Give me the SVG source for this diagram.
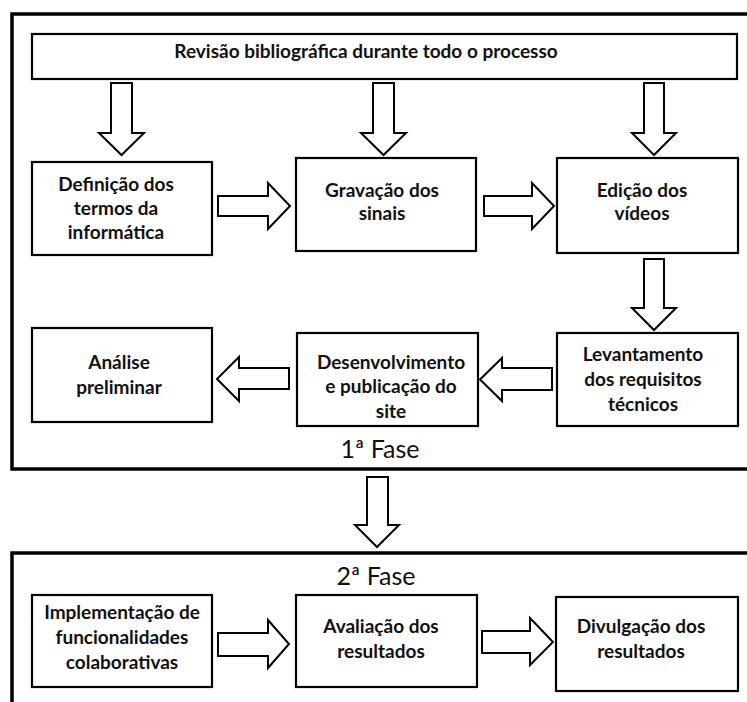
<svg xmlns="http://www.w3.org/2000/svg" width="747" height="702" viewBox="0 0 747 702">
<style>
.frame{fill:none;stroke:#000;stroke-width:3.5}
.box{fill:#fff;stroke:#000;stroke-width:2.2}
.arr{fill:#fff;stroke:#000;stroke-width:2;stroke-linejoin:miter}
.t{font-family:Lato,"Open Sans","Liberation Sans",sans-serif;font-weight:bold;font-size:19px;fill:#111;text-anchor:middle}
.top{font-size:19px}
.phase{font-family:Lato,"Open Sans","Liberation Sans",sans-serif;font-weight:normal;font-size:25px;fill:#111;text-anchor:middle}
</style>
<rect width="747" height="702" fill="#fff"/>
<g id="fase1">
<rect class="frame" x="12" y="14" width="760" height="455"/>
<text class="phase" x="380" y="458">1ª Fase</text>
</g>
<g id="fase2">
<rect class="frame" x="12" y="553" width="760" height="200"/>
<text class="phase" x="376" y="585">2ª Fase</text>
</g>
<g id="connectors">
<path class="arr" d="M111,83 H132 V133 H144 L121.5,155 L99,133 H111 Z"/>
<path class="arr" d="M373,83 H394 V133 H406 L383.5,155 L361,133 H373 Z"/>
<path class="arr" d="M644,83 H664 V133 H676 L654,155 L632,133 H644 Z"/>
<path class="arr" d="M218,196 H268 V183 L290,206 L268,229 V216 H218 Z"/>
<path class="arr" d="M484,196 H532 V183 L554,206 L532,229 V216 H484 Z"/>
<path class="arr" d="M644,259 H664 V308 H676 L654,330 L632,308 H644 Z"/>
<path class="arr" d="M552,368 H502 V358 L480,379.5 L502,401 V390 H552 Z"/>
<path class="arr" d="M289,368 H239 V357 L217,379 L239,401 V389 H289 Z"/>
<path class="arr" d="M367,477 H388 V525 H399 L377,547 L355,525 H367 Z"/>
<path class="arr" d="M218,633 H268 V620 L289,644 L268,668 V656 H218 Z"/>
<path class="arr" d="M482,631 H530 V618 L553,642 L530,665 V653 H482 Z"/>
</g>
<g id="revisao">
<rect class="box" x="32" y="34" width="705" height="45"/>
<text class="t top" x="366" y="58">Revisão bibliográfica durante todo o processo</text>
</g>
<g id="definicao">
<rect class="box" x="32" y="162" width="180" height="93"/>
<text class="t" x="116" y="191">Definição dos</text>
<text class="t" x="116" y="215">termos da</text>
<text class="t" x="116" y="239">informática</text>
</g>
<g id="gravacao">
<rect class="box" x="296" y="158" width="180" height="93"/>
<text class="t" x="382" y="197">Gravação dos</text>
<text class="t" x="382" y="220">sinais</text>
</g>
<g id="edicao">
<rect class="box" x="557" y="158" width="181" height="95"/>
<text class="t" x="642" y="197">Edição dos</text>
<text class="t" x="642" y="220">vídeos</text>
</g>
<g id="levantamento">
<rect class="box" x="557" y="333" width="181" height="93"/>
<text class="t" x="643" y="361">Levantamento</text>
<text class="t" x="643" y="386">dos requisitos</text>
<text class="t" x="643" y="411">técnicos</text>
</g>
<g id="desenvolvimento">
<rect class="box" x="297" y="333" width="181" height="93"/>
<text class="t" x="391" y="369">Desenvolvimento</text>
<text class="t" x="391" y="393">e publicação do</text>
<text class="t" x="391" y="418">site</text>
</g>
<g id="analise">
<rect class="box" x="32" y="328" width="180" height="94"/>
<text class="t" x="119" y="369">Análise</text>
<text class="t" x="119" y="394">preliminar</text>
</g>
<g id="implementacao">
<rect class="box" x="32" y="595" width="180" height="92"/>
<text class="t" x="122" y="619">Implementação de</text>
<text class="t" x="122" y="644">funcionalidades</text>
<text class="t" x="122" y="669">colaborativas</text>
</g>
<g id="avaliacao">
<rect class="box" x="296" y="595" width="181" height="92"/>
<text class="t" x="381" y="633">Avaliação dos</text>
<text class="t" x="381" y="658">resultados</text>
</g>
<g id="divulgacao">
<rect class="box" x="556" y="597" width="182" height="94"/>
<text class="t" x="641" y="633">Divulgação dos</text>
<text class="t" x="641" y="658">resultados</text>
</g>
</svg>
